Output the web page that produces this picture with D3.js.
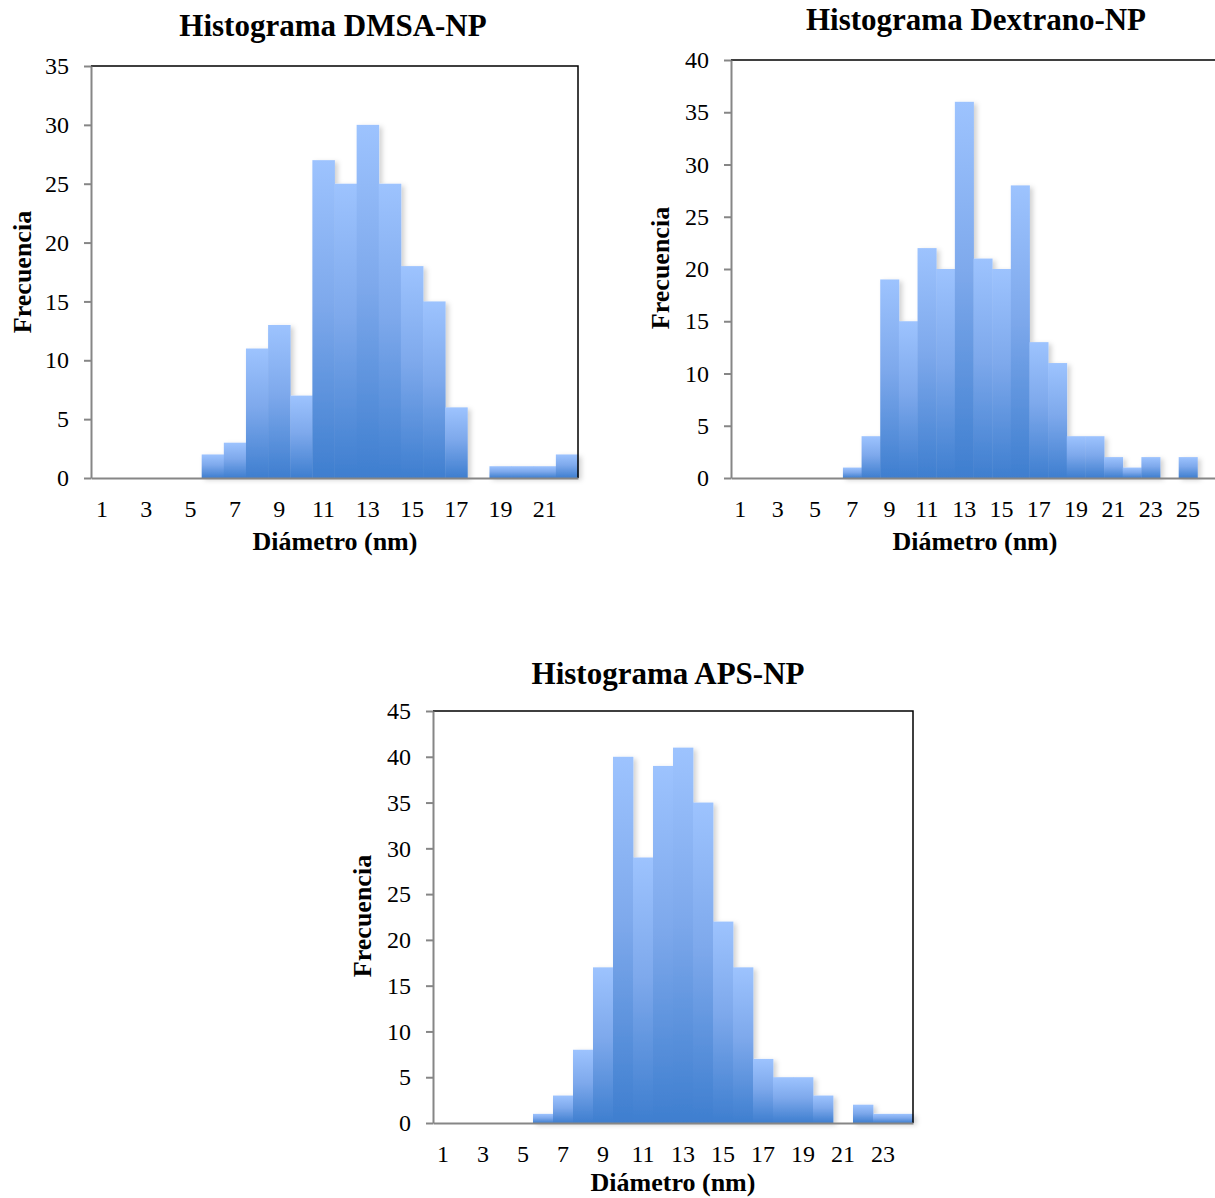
<!DOCTYPE html>
<html>
<head>
<meta charset="utf-8">
<script src="https://cdn.jsdelivr.net/npm/d3@7"></script>
<style>
  body { margin: 0; background: #fff; }
  svg { display: block; font-family: "Liberation Serif", "Times New Roman", serif; }
</style>
</head>
<body>
<svg id="chart" width="1215" height="1198"></svg>
<script>
// diameter bins (nm) for each histogram
var dmsaBins = d3.range(1, 23);       // 1..22
var dextranoBins = d3.range(1, 27);   // 1..26
var apsBins = d3.range(1, 25);        // 1..24

// frequencies
var dmsaCounts = [0, 0, 0, 0, 0, 2, 3, 11, 13, 7, 27, 25, 30, 25, 18, 15, 6, 0, 1, 1, 1, 2];
var dextranoCounts = [0, 0, 0, 0, 0, 0, 1, 4, 19, 15, 22, 20, 36, 21, 20, 28, 13, 11, 4, 4, 2, 1, 2, 0, 2, 0];
var apsCounts = [0, 0, 0, 0, 0, 1, 3, 8, 17, 40, 29, 39, 41, 35, 22, 17, 7, 5, 5, 3, 0, 2, 1, 1];

// tick labels
var dmsaXTicks = [1, 3, 5, 7, 9, 11, 13, 15, 17, 19, 21];
var dextranoXTicks = [1, 3, 5, 7, 9, 11, 13, 15, 17, 19, 21, 23, 25];
var apsXTicks = [1, 3, 5, 7, 9, 11, 13, 15, 17, 19, 21, 23];
var dmsaYTicks = [0, 5, 10, 15, 20, 25, 30, 35];
var dextranoYTicks = [0, 5, 10, 15, 20, 25, 30, 35, 40];
var apsYTicks = [0, 5, 10, 15, 20, 25, 30, 35, 40, 45];

var svg = d3.select('#chart');

// bar gradient + soft shadow
var defs = svg.append('defs');
var grad = defs.append('linearGradient')
  .attr('id', 'barGrad')
  .attr('x1', 0).attr('y1', 0).attr('x2', 0).attr('y2', 1);
grad.append('stop').attr('offset', '0%').attr('stop-color', '#9dc3fe');
grad.append('stop').attr('offset', '45%').attr('stop-color', '#7ea9ec');
grad.append('stop').attr('offset', '100%').attr('stop-color', '#3e7ecf');

var shadow = defs.append('filter').attr('id', 'barShadow')
  .attr('x', '-10%').attr('y', '-10%').attr('width', '130%').attr('height', '130%');
shadow.append('feDropShadow')
  .attr('dx', 3).attr('dy', 2).attr('stdDeviation', 2.5)
  .attr('flood-color', '#000').attr('flood-opacity', 0.18);

function drawHistogram(cfg) {
  var g = svg.append('g');

  var x = d3.scaleBand()
    .domain(cfg.bins)
    .range([cfg.left, cfg.right])
    .padding(0);

  var y = d3.scaleLinear()
    .domain([0, cfg.yMax])
    .range([cfg.bottom, cfg.top]);

  // bars
  g.append('g')
    .attr('filter', 'url(#barShadow)')
    .selectAll('rect')
    .data(cfg.counts)
    .enter()
    .append('rect')
    .attr('x', function (d, i) { return x(cfg.bins[i]); })
    .attr('width', x.bandwidth() + 0.4)
    .attr('y', function (d) { return y(d); })
    .attr('height', function (d) { return cfg.bottom - y(d); })
    .attr('fill', 'url(#barGrad)');

  // top / right frame
  g.append('path')
    .attr('d', 'M' + cfg.left + ',' + cfg.top + 'H' + cfg.right + 'V' + cfg.bottom)
    .attr('fill', 'none')
    .attr('stroke', '#000')
    .attr('stroke-width', 1.5);

  // y axis
  var yAxis = g.append('g')
    .attr('transform', 'translate(' + cfg.left + ',0)')
    .call(d3.axisLeft(y).tickValues(cfg.yTicks).tickSize(7).tickSizeOuter(0).tickPadding(15));

  // x axis
  var xAxis = g.append('g')
    .attr('transform', 'translate(0,' + cfg.bottom + ')')
    .call(d3.axisBottom(x).tickValues(cfg.xTicks).tickSize(0).tickPadding(22));

  [yAxis, xAxis].forEach(function (a) {
    a.select('.domain').attr('stroke', '#868686').attr('stroke-width', 2);
    a.selectAll('.tick line').attr('stroke', '#868686').attr('stroke-width', 2);
    a.selectAll('.tick text')
      .attr('fill', '#000')
      .style('font-size', '24px')
      .style('font-family', '"Liberation Serif", "Times New Roman", serif');
  });

  // title
  g.append('text')
    .attr('x', cfg.titleX)
    .attr('y', cfg.titleY)
    .attr('text-anchor', 'middle')
    .style('font-size', '31px')
    .style('font-weight', 'bold')
    .text(cfg.title);

  // axis titles
  g.append('text')
    .attr('x', cfg.xLabelX)
    .attr('y', cfg.xLabelY)
    .attr('text-anchor', 'middle')
    .style('font-size', '26px')
    .style('font-weight', 'bold')
    .text('Diámetro (nm)');

  g.append('text')
    .attr('transform', 'translate(' + cfg.yLabelX + ',' + cfg.yLabelY + ') rotate(-90)')
    .attr('text-anchor', 'middle')
    .style('font-size', '26px')
    .style('font-weight', 'bold')
    .text('Frecuencia');
}

drawHistogram({
  title: 'Histograma DMSA-NP', bins: dmsaBins, counts: dmsaCounts,
  xTicks: dmsaXTicks, yTicks: dmsaYTicks, yMax: 35,
  left: 91, right: 578, top: 66, bottom: 478,
  titleX: 333, titleY: 36, xLabelX: 335, xLabelY: 550, yLabelX: 31, yLabelY: 272
});

drawHistogram({
  title: 'Histograma Dextrano-NP', bins: dextranoBins, counts: dextranoCounts,
  xTicks: dextranoXTicks, yTicks: dextranoYTicks, yMax: 40,
  left: 731, right: 1216, top: 60, bottom: 478,
  titleX: 976, titleY: 30, xLabelX: 975, xLabelY: 550, yLabelX: 669, yLabelY: 268
});

drawHistogram({
  title: 'Histograma APS-NP', bins: apsBins, counts: apsCounts,
  xTicks: apsXTicks, yTicks: apsYTicks, yMax: 45,
  left: 433, right: 913, top: 711, bottom: 1123,
  titleX: 668, titleY: 684, xLabelX: 673, xLabelY: 1191, yLabelX: 371, yLabelY: 916
});
</script>
</body>
</html>
